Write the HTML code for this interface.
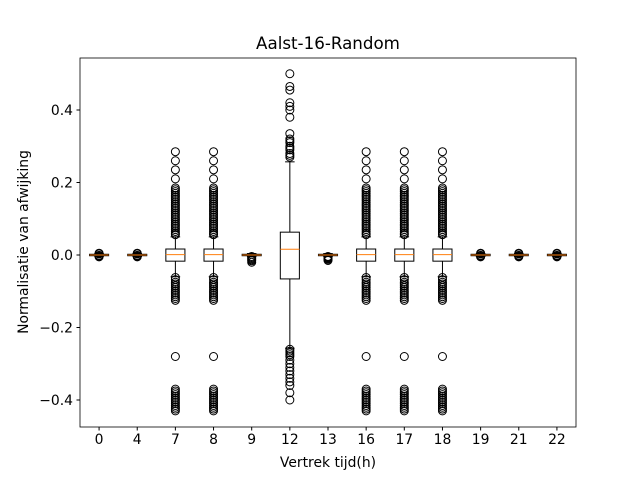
<!DOCTYPE html>
<html><head><meta charset="utf-8"><style>
body{margin:0;background:#fff;}
svg{display:block;font-family:"DejaVu Sans","Liberation Sans",sans-serif;}
</style></head><body>
<svg id="c" width="640" height="480"></svg>
<script>
const categories=["0","4","7","8","9","12","13","16","17","18","19","21","22"];
const q1=[-0.002,-0.002,-0.017,-0.017,-0.002,-0.066,-0.002,-0.017,-0.017,-0.017,-0.002,-0.002,-0.002];
const q3=[0.002,0.002,0.0165,0.0165,0.002,0.063,0.002,0.0165,0.0165,0.0165,0.002,0.002,0.002];
const medians=[0,0,0.001,0.001,0,0.016,0,0.001,0.001,0.001,0,0,0];
const whiskLo=[-0.004,-0.004,-0.06,-0.06,-0.004,-0.257,-0.004,-0.06,-0.06,-0.06,-0.004,-0.004,-0.004];
const whiskHi=[0.004,0.004,0.05,0.05,0.004,0.257,0.004,0.05,0.05,0.05,0.004,0.004,0.004];
const fl7=[0.285,0.26,0.235,0.21,0.185,0.18,0.175,0.17,0.165,0.16,0.155,0.15,0.145,0.14,0.135,0.13,0.125,0.12,0.115,0.11,0.105,0.1,0.095,0.09,0.085,0.08,0.075,0.07,0.065,0.06,0.056,-0.062,-0.068,-0.075,-0.08,-0.085,-0.09,-0.095,-0.1,-0.105,-0.11,-0.115,-0.12,-0.125,-0.28,-0.37,-0.375,-0.38,-0.385,-0.39,-0.395,-0.40,-0.405,-0.41,-0.415,-0.42,-0.425,-0.43];
const fl0=[-0.005,0.005,-0.003,0.003,-0.001];
const fl9=[-0.004,-0.007,-0.01,-0.013,-0.016,-0.02];
const fl12=[0.5,0.465,0.455,0.42,0.41,0.40,0.38,0.335,0.32,0.315,0.31,0.30,0.295,0.29,0.28,0.275,0.27,-0.26,-0.265,-0.27,-0.275,-0.28,-0.29,-0.30,-0.31,-0.32,-0.33,-0.34,-0.35,-0.36,-0.38,-0.40];
const fl13=[-0.004,-0.006,-0.008,-0.01,-0.012,-0.015];
const fliers=[fl0,fl0,fl7,fl7,fl9,fl12,fl13,fl7,fl7,fl7,fl0,fl0,fl0];
const yTicks=[-0.4,-0.2,0.0,0.2,0.4];
const L=80,R=576,T=58,B=427;
const x=i=>L+(i+0.5)*(R-L)/categories.length;
const y=v=>255-v*362.5;
const s=document.getElementById('c');const NS='http://www.w3.org/2000/svg';
function mk(t,a,p){const e=document.createElementNS(NS,t);for(const k in a)e.setAttribute(k,a[k]);(p||s).appendChild(e);return e;}
const bw=(R-L)/categories.length*0.5;
categories.forEach((c,i)=>{
 const g=mk('g',{});
 
 
 const cx=x(i);
 mk('line',{x1:cx,x2:cx,y1:y(q3[i]),y2:y(whiskHi[i]),stroke:'#000'},g);
 mk('line',{x1:cx,x2:cx,y1:y(q1[i]),y2:y(whiskLo[i]),stroke:'#000'},g);
 mk('line',{x1:cx-bw/4,x2:cx+bw/4,y1:y(whiskHi[i]),y2:y(whiskHi[i]),stroke:'#000'},g);
 mk('line',{x1:cx-bw/4,x2:cx+bw/4,y1:y(whiskLo[i]),y2:y(whiskLo[i]),stroke:'#000'},g);
 mk('rect',{x:cx-bw/2,y:y(q3[i]),width:bw,height:Math.max(0.5,y(q1[i])-y(q3[i])),fill:'none',stroke:'#000'},g);
 fliers[i].forEach(v=>mk('circle',{cx:cx,cy:y(v),r:4,fill:'none',stroke:'#000'},g));
 mk('line',{x1:cx-bw/2,x2:cx+bw/2,y1:y(medians[i]),y2:y(medians[i]),stroke:'#ff7f0e'},g);
 mk('line',{x1:cx,x2:cx,y1:B,y2:B+3.5,stroke:'#000'});
 const t=mk('text',{x:cx,y:B+17,'text-anchor':'middle','font-size':13.9});t.textContent=c;
 
});
yTicks.forEach(v=>{
 mk('line',{x1:L-3.5,x2:L,y1:y(v),y2:y(v),stroke:'#000'});
 const t=mk('text',{x:L-7,y:y(v)+5,'text-anchor':'end','font-size':13.9});t.textContent=v.toFixed(1).replace('-','\u2212');
 
});
const f=mk('rect',{x:L,y:T,width:R-L,height:B-T,fill:'none',stroke:'#000','stroke-width':0.8});

let t=mk('text',{x:328,y:49,'text-anchor':'middle','font-size':16.7});t.textContent='Aalst-16-Random';

t=mk('text',{x:328,y:467,'text-anchor':'middle','font-size':13.9});t.textContent='Vertrek tijd(h)';

t=mk('text',{x:0,y:0,'text-anchor':'middle','font-size':13.9,transform:'translate(28,242) rotate(-90)'});t.textContent='Normalisatie van afwijking';

</script>
</body></html>
